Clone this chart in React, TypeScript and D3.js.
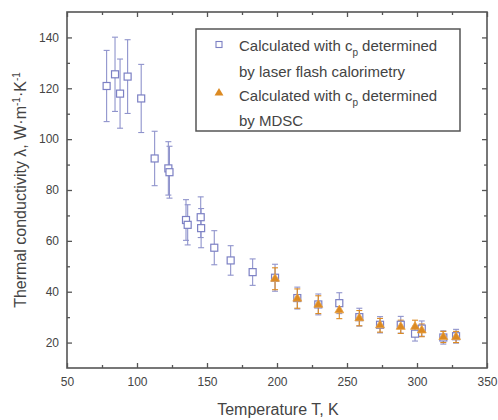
import * as d3 from "d3";
import { useEffect, useRef } from "react";

// laser flash series (blue squares)
const laserT = [78.3, 84.3, 87.9, 93.3, 103, 112.6, 122.4, 123.2, 135, 136.2, 145.5, 145.8, 155.2, 166.9, 182.6, 198.6, 214.5, 229.5, 244.5, 258.8, 273.6, 288.4, 298.6, 303.4, 318.8, 327.9];
const laserK = [120.9, 125.5, 117.9, 124.6, 116, 92.4, 88.5, 87, 68.2, 66.3, 69.3, 65, 57.3, 52.3, 47.7, 45.5, 37.5, 35, 35.5, 30, 27, 27, 23.5, 25.5, 22, 22.5];
const laserErr = [14, 14.6, 13.6, 14.5, 13.4, 10.7, 10.5, 10.2, 8, 7.9, 8, 7.7, 6.7, 5.8, 5.2, 5.3, 4.3, 4.1, 4.1, 3.5, 3.2, 3.3, 2.9, 3, 2.6, 2.7];

// MDSC series (orange triangles)
const mdscT = [198.6, 214.5, 229.5, 244.5, 258.8, 273.6, 288.4, 298.6, 303.4, 318.8, 327.9];
const mdscK = [45.1, 37.3, 34.9, 32.7, 29.6, 26.8, 26.2, 26.2, 24.8, 22.2, 22.2];
const mdscErr = [4.3, 3.8, 3.5, 3.3, 3, 2.7, 2.6, 2.6, 2.5, 2.2, 2.2];

const xMajor = [50, 100, 150, 200, 250, 300, 350];
const xMinor = [75, 125, 175, 225, 275, 325];
const yMajor = [20, 40, 60, 80, 100, 120, 140];
const yMinor = [30, 50, 70, 90, 110, 130];

export default function App() {
  const ref = useRef<SVGSVGElement>(null);

  useEffect(() => {
    const width = 498;
    const height = 420;
    const margin = { top: 12, right: 11, bottom: 52, left: 67 };
    const innerWidth = width - margin.left - margin.right;
    const innerHeight = height - margin.top - margin.bottom;
    const axisColor = "#555";
    const textColor = "#444";
    const blue = "#7c80c4";
    const orange = "#dc8a22";
    const font = "'Liberation Sans', Arial, sans-serif";

    const svg = d3.select(ref.current);
    svg.selectAll("*").remove();
    svg.attr("width", width).attr("height", height);

    const x = d3.scaleLinear().domain([50, 350]).range([0, innerWidth]);
    const y = d3.scaleLinear().domain([10, 150]).range([innerHeight, 0]);

    const g = svg
      .append("g")
      .attr("transform", `translate(${margin.left},${margin.top})`);

    const styleAxis = (sel: any) => {
      sel.selectAll(".domain").remove();
      sel.selectAll(".tick line").attr("stroke", axisColor).attr("stroke-width", 1.3);
      sel
        .selectAll(".tick text")
        .attr("fill", textColor)
        .attr("font-family", font)
        .attr("font-size", 12);
    };

    // bottom
    g.append("g")
      .attr("transform", `translate(0,${innerHeight})`)
      .call(d3.axisBottom(x).tickValues(xMajor).tickSizeInner(-5).tickSizeOuter(0).tickPadding(9).tickFormat(d3.format("d")))
      .call(styleAxis);
    g.append("g")
      .attr("transform", `translate(0,${innerHeight})`)
      .call(d3.axisBottom(x).tickValues(xMinor).tickSizeInner(-3).tickSizeOuter(0).tickFormat(() => ""))
      .call(styleAxis);
    // top
    g.append("g")
      .call(d3.axisTop(x).tickValues(xMajor).tickSizeInner(-5).tickSizeOuter(0).tickFormat(() => ""))
      .call(styleAxis);
    g.append("g")
      .call(d3.axisTop(x).tickValues(xMinor).tickSizeInner(-3).tickSizeOuter(0).tickFormat(() => ""))
      .call(styleAxis);
    // left
    g.append("g")
      .call(d3.axisLeft(y).tickValues(yMajor).tickSizeInner(-5).tickSizeOuter(0).tickPadding(8).tickFormat(d3.format("d")))
      .call(styleAxis);
    g.append("g")
      .call(d3.axisLeft(y).tickValues(yMinor).tickSizeInner(-3).tickSizeOuter(0).tickFormat(() => ""))
      .call(styleAxis);
    // right
    g.append("g")
      .attr("transform", `translate(${innerWidth},0)`)
      .call(d3.axisRight(y).tickValues(yMajor).tickSizeInner(-5).tickSizeOuter(0).tickFormat(() => ""))
      .call(styleAxis);
    g.append("g")
      .attr("transform", `translate(${innerWidth},0)`)
      .call(d3.axisRight(y).tickValues(yMinor).tickSizeInner(-3).tickSizeOuter(0).tickFormat(() => ""))
      .call(styleAxis);

    // frame
    g.append("rect")
      .attr("width", innerWidth)
      .attr("height", innerHeight)
      .attr("fill", "none")
      .attr("stroke", axisColor)
      .attr("stroke-width", 1.6);

    const laser = laserT.map((t, i) => ({ t, k: laserK[i], e: laserErr[i] }));
    const mdsc = mdscT.map((t, i) => ({ t, k: mdscK[i], e: mdscErr[i] }));

    const drawErr = (data: any[], color: string) => {
      const eg = g.append("g").attr("stroke", color).attr("stroke-width", 1.1).attr("fill", "none");
      data.forEach((d) => {
        const cx = x(d.t);
        const y0 = y(d.k - d.e);
        const y1 = y(d.k + d.e);
        eg.append("line").attr("x1", cx).attr("x2", cx).attr("y1", y0).attr("y2", y1);
        eg.append("line").attr("x1", cx - 3).attr("x2", cx + 3).attr("y1", y0).attr("y2", y0);
        eg.append("line").attr("x1", cx - 3).attr("x2", cx + 3).attr("y1", y1).attr("y2", y1);
      });
    };

    drawErr(laser, "#8f93cc");
    drawErr(mdsc, orange);

    g.append("g")
      .selectAll("rect")
      .data(laser)
      .enter()
      .append("rect")
      .attr("x", (d) => x(d.t) - 3.5)
      .attr("y", (d) => y(d.k) - 3.5)
      .attr("width", 7)
      .attr("height", 7)
      .attr("fill", "white")
      .attr("stroke", blue)
      .attr("stroke-width", 1.2);

    const tri = d3.symbol().type(d3.symbolTriangle).size(34);
    g.append("g")
      .selectAll("path")
      .data(mdsc)
      .enter()
      .append("path")
      .attr("d", tri)
      .attr("transform", (d) => `translate(${x(d.t)},${y(d.k)})`)
      .attr("fill", orange)
      .attr("stroke", "#e9a040")
      .attr("stroke-width", 0.8);

    // legend
    const legend = svg.append("g").attr("transform", "translate(196,29)");
    legend
      .append("rect")
      .attr("width", 264)
      .attr("height", 102)
      .attr("fill", "white")
      .attr("stroke", axisColor)
      .attr("stroke-width", 1.5);
    legend
      .append("rect")
      .attr("x", 20)
      .attr("y", 12.5)
      .attr("width", 6)
      .attr("height", 6)
      .attr("fill", "white")
      .attr("stroke", blue)
      .attr("stroke-width", 1.1);
    legend
      .append("path")
      .attr("d", tri)
      .attr("transform", "translate(23,64)")
      .attr("fill", orange);

    const rows = [
      { y: 22, main: "Calculated with c", sub: "p", rest: " determined" },
      { y: 47.5, main: "by laser flash calorimetry" },
      { y: 72, main: "Calculated with c", sub: "p", rest: " determined" },
      { y: 97, main: "by MDSC" },
    ];
    rows.forEach((r) => {
      const t = legend
        .append("text")
        .attr("x", 43)
        .attr("y", r.y)
        .attr("fill", textColor)
        .attr("font-family", font)
        .attr("font-size", 15);
      t.append("tspan").text(r.main);
      if (r.sub) {
        t.append("tspan").attr("dy", 5).attr("font-size", 10).text(r.sub);
        t.append("tspan").attr("dy", -5).text(r.rest!);
      }
    });

    // axis titles
    svg
      .append("text")
      .attr("x", margin.left + innerWidth / 2 + 1)
      .attr("y", 415)
      .attr("text-anchor", "middle")
      .attr("fill", textColor)
      .attr("font-family", font)
      .attr("font-size", 16)
      .text("Temperature T, K");

    const yt = svg
      .append("text")
      .attr("transform", `translate(26,${margin.top + innerHeight / 2}) rotate(-90)`)
      .attr("text-anchor", "middle")
      .attr("fill", textColor)
      .attr("font-family", font)
      .attr("font-size", 16);
    yt.append("tspan").text("Thermal conductivity λ, W·m");
    yt.append("tspan").attr("dy", -6).attr("font-size", 10).text("-1");
    yt.append("tspan").attr("dy", 6).text("·K");
    yt.append("tspan").attr("dy", -6).attr("font-size", 10).text("-1");
  }, []);

  return (
    <svg
      ref={ref}
      style={{ position: "absolute", left: 0, top: 0, background: "white" }}
    ></svg>
  );
}
